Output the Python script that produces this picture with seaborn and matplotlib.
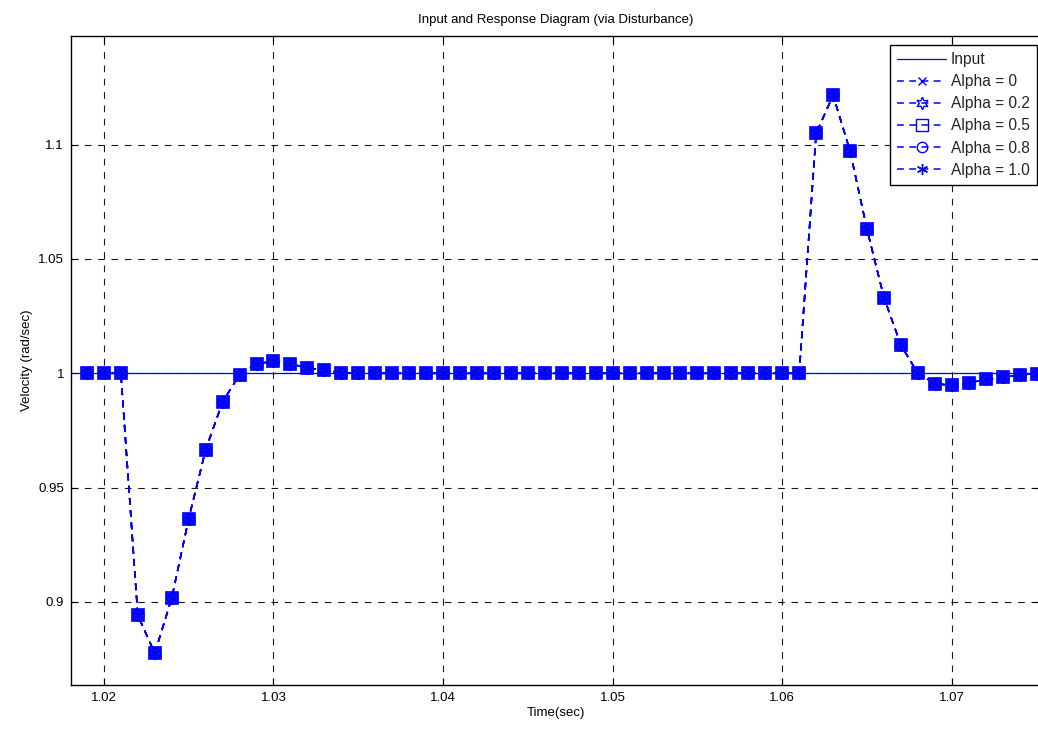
import numpy as np
import pandas as pd
import matplotlib
matplotlib.use("Agg")
import matplotlib.pyplot as plt
import seaborn as sns
from matplotlib.ticker import FixedLocator, FixedFormatter

# ---- data ----
time = [1.019, 1.020, 1.021, 1.022, 1.023, 1.024, 1.025, 1.026, 1.027, 1.028,
        1.029, 1.030, 1.031, 1.032, 1.033, 1.034, 1.035, 1.036, 1.037, 1.038,
        1.039, 1.040, 1.041, 1.042, 1.043, 1.044, 1.045, 1.046, 1.047, 1.048,
        1.049, 1.050, 1.051, 1.052, 1.053, 1.054, 1.055, 1.056, 1.057, 1.058,
        1.059, 1.060, 1.061, 1.062, 1.063, 1.064, 1.065, 1.066, 1.067, 1.068,
        1.069, 1.070, 1.071, 1.072, 1.073, 1.074, 1.075]
response = [1.0, 1.0, 1.0, 0.8941, 0.8776, 0.9017, 0.9364, 0.9666, 0.9875, 0.9994,
            1.0042, 1.0052, 1.0042, 1.0023, 1.0013, 1.0003, 1.0, 1.0, 1.0, 1.0,
            1.0, 1.0, 1.0, 1.0, 1.0, 1.0, 1.0, 1.0, 1.0, 1.0,
            1.0, 1.0, 1.0, 1.0, 1.0, 1.0, 1.0, 1.0, 1.0, 1.0,
            1.0, 1.0, 1.0, 1.1049, 1.1216, 1.0972, 1.0629, 1.0331, 1.0123, 1.0,
            0.9955, 0.9947, 0.9958, 0.9973, 0.9982, 0.9993, 0.9999]
input_time = [1.015, 1.080]
input_value = [1.0, 1.0]
series_labels = ["Alpha = 0", "Alpha = 0.2", "Alpha = 0.5", "Alpha = 0.8", "Alpha = 1.0"]
x_ticks = [1.02, 1.03, 1.04, 1.05, 1.06, 1.07]
x_tick_labels = ["1.02", "1.03", "1.04", "1.05", "1.06", "1.07"]
y_ticks = [0.9, 0.95, 1.0, 1.05, 1.1]
y_tick_labels = ["0.9", "0.95", "1", "1.05", "1.1"]

# ---- style ----
sns.set_theme(style="white")
plt.rcParams['font.family'] = ['Liberation Sans', 'DejaVu Sans']
plt.rcParams['axes.linewidth'] = 1.0

fig = plt.figure(figsize=(10.38, 7.31), dpi=100)
ax = fig.add_axes([71/1038, 1 - 685/731, (1040 - 71)/1038, (685 - 36)/731])

sns.lineplot(x=input_time, y=input_value, ax=ax, color="blue", linewidth=0.9,
             label="Input", sort=False)

markers = ["x", (6, 1, 0), "s", "o", (6, 2, 0)]
msizes = [6, 9, 8.5, 7.5, 8]
mews = [1.2, 1.2, 1.2, 1.2, 1.2]
df = pd.DataFrame({"t": time, "v": response})
for lab, mk, ms, mw in zip(series_labels, markers, msizes, mews):
    face = "#1a1aff" if mk == "s" else "none"
    sns.lineplot(data=df, x="t", y="v", ax=ax, color="blue", linestyle="--",
                 linewidth=1.1, marker=mk, markersize=ms, markerfacecolor=face,
                 markeredgecolor="blue", markeredgewidth=mw, label=lab,
                 dashes=False, sort=False)
for line in ax.get_lines()[1:]:
    line.set_linestyle((0, (4.5, 3.5)))

ax.set_xlim(1.01806, 1.07520)
ax.set_ylim(0.8637, 1.1475)
ax.xaxis.set_major_locator(FixedLocator(x_ticks))
ax.xaxis.set_major_formatter(FixedFormatter(x_tick_labels))
ax.yaxis.set_major_locator(FixedLocator(y_ticks))
ax.yaxis.set_major_formatter(FixedFormatter(y_tick_labels))
ax.tick_params(direction="in", length=5, width=0.8, labelsize=9.5, colors="black",
               top=True, right=True, bottom=True, left=True, pad=5)
ax.grid(True, color="black", linestyle=(0, (6, 6)), linewidth=0.8, alpha=0.9)
ax.set_axisbelow(True)
for s in ax.spines.values():
    s.set_color("black")

ax.set_xlabel("Time(sec)", fontsize=9.5, color="black", labelpad=2)
ax.set_ylabel("Velocity (rad/sec)", fontsize=9.5, color="black", labelpad=4)
ax.set_title("Input and Response Diagram (via Disturbance)", fontsize=9.5,
             color="black", pad=9)

leg = ax.legend(loc="upper right", fontsize=11.2, frameon=True, fancybox=False,
                edgecolor="black", framealpha=1, borderpad=0.45, labelspacing=0.46,
                handlelength=3.1, handletextpad=0.35, borderaxespad=0.0,
                bbox_to_anchor=((1037 - 71) / 969, (685 - 45) / 649))
leg.get_frame().set_linewidth(1.0)
for h in leg.legend_handles[1:]:
    h.set_markerfacecolor("none")
    h.set_markeredgewidth(1.0)

fig.savefig("out.png", dpi=100)
